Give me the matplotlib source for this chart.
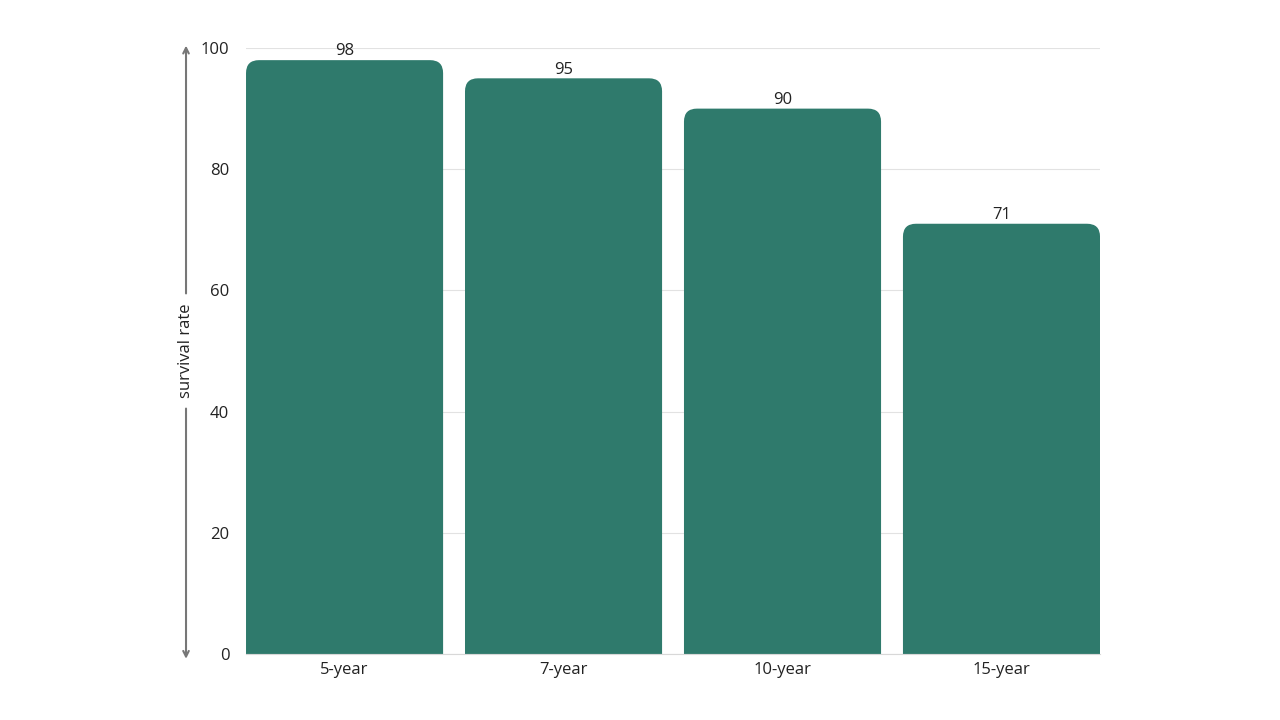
import matplotlib.pyplot as plt
from matplotlib.path import Path
from matplotlib.patches import PathPatch

plt.rcParams['font.family'] = ['Open Sans', 'DejaVu Sans']

periods = ['5-year', '7-year', '10-year', '15-year']
survival = [98, 95, 90, 71]
yticks = [0, 20, 40, 60, 80, 100]

bar_color = '#2f7a6c'
text_color = '#222222'

fig = plt.figure(figsize=(12.8, 7.2), dpi=100)
ax = fig.add_axes([0.1922, 0.0917, 0.6672, 0.8416])

bars = ax.bar(range(len(periods)), survival, width=0.9, color=bar_color, zorder=2)
ax.set_xlim(-0.45, len(periods) - 0.55)
ax.set_ylim(0, 100)


def rounded_top(x0, w, h, rx, ry):
    x1 = x0 + w
    verts = [(x0, 0), (x0, h - ry), (x0, h), (x0 + rx, h),
             (x1 - rx, h), (x1, h), (x1, h - ry), (x1, 0), (x0, 0)]
    codes = [Path.MOVETO, Path.LINETO, Path.CURVE3, Path.CURVE3,
             Path.LINETO, Path.CURVE3, Path.CURVE3, Path.LINETO, Path.CLOSEPOLY]
    return Path(verts, codes)


# corner radius of about 13 px, converted to data units
fig.canvas.draw()
bbox = ax.get_window_extent()
px_x = bbox.width / (ax.get_xlim()[1] - ax.get_xlim()[0])
px_y = bbox.height / (ax.get_ylim()[1] - ax.get_ylim()[0])
rx, ry = 13 / px_x, 13 / px_y

for b, v in zip(bars, survival):
    b.set_visible(False)
    ax.add_patch(PathPatch(rounded_top(b.get_x(), b.get_width(), b.get_height(), rx, ry),
                           facecolor=bar_color, edgecolor='none', zorder=2))
    ax.annotate(str(v), (b.get_x() + b.get_width() / 2, v), xytext=(0, 0.5),
                textcoords='offset points', ha='center', va='bottom',
                fontsize=12, color=text_color)

ax.set_xticks(range(len(periods)))
ax.set_xticklabels(periods, fontsize=12, color=text_color)
ax.set_yticks(yticks)
ax.set_yticklabels([str(t) for t in yticks], fontsize=12, color=text_color)
ax.tick_params(axis='both', length=0)
ax.tick_params(axis='y', pad=12)
ax.tick_params(axis='x', pad=6)

ax.grid(axis='y', color='#e2e2e2', linewidth=0.8, zorder=0)
for s in ['left', 'right', 'top']:
    ax.spines[s].set_visible(False)
ax.spines['bottom'].set_color('#d8d8d8')
ax.spines['bottom'].set_linewidth(0.8)

# y axis arrows with label in the gap
ax_x = -60 / bbox.width
arrow = dict(arrowstyle='->', color='#777777', lw=1.5, shrinkA=0, shrinkB=0)
ax.annotate('', xy=(ax_x, 1.004), xytext=(ax_x, 0.595), xycoords='axes fraction',
            arrowprops=arrow, annotation_clip=False)
ax.annotate('', xy=(ax_x, -0.008), xytext=(ax_x, 0.405), xycoords='axes fraction',
            arrowprops=arrow, annotation_clip=False)
ax.text(ax_x, 0.5, 'survival rate', transform=ax.transAxes, rotation=90,
        ha='center', va='center', fontsize=12, color=text_color)

fig.savefig('out.png', dpi=100)
